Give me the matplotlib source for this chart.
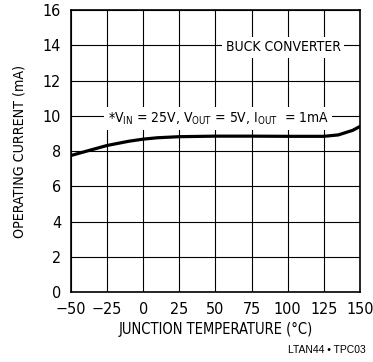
import matplotlib
matplotlib.use("Agg")
import matplotlib.pyplot as plt
from matplotlib import font_manager

# ---------- data ----------
temp_c = [-50, -40, -25, -10, 0, 10, 25, 50, 75, 100, 125, 135, 145, 150]
current_ma = [7.75, 7.98, 8.32, 8.56, 8.68, 8.76, 8.82, 8.85, 8.85, 8.84, 8.84, 8.92, 9.18, 9.4]
xticks = [-50, -25, 0, 25, 50, 75, 100, 125, 150]
yticks = [0, 2, 4, 6, 8, 10, 12, 14, 16]

# ---------- pick a condensed face if one is installed ----------
fonts = font_manager.fontManager.ttflist
names = {f.name for f in fonts}
narrow = None
if "Liberation Sans Narrow" in names:
    narrow = dict(family="Liberation Sans Narrow")
elif any(f.name == "DejaVu Sans" and str(f.stretch) in ("condensed", "semi-condensed", "75", "87.5") for f in fonts):
    narrow = dict(family="DejaVu Sans", stretch="condensed")

plt.rcParams["font.family"] = ["Liberation Sans", "DejaVu Sans"]
plt.rcParams["mathtext.default"] = "regular"
if narrow:
    plt.rcParams["font.family"] = [narrow["family"], "DejaVu Sans"]
    if "stretch" in narrow:
        plt.rcParams["font.stretch"] = narrow["stretch"]
    xlab_fs, ylab_fs, txt_fs, tick_fs = 10.5, 10.2, 10, 11.5
else:
    xlab_fs, ylab_fs, txt_fs, tick_fs = 9, 8.8, 8.5, 10.5

fig = plt.figure(figsize=(3.73, 3.62), dpi=100)
ax = fig.add_axes([0.190, 0.193, 0.775, 0.779])

ax.plot(temp_c, current_ma, color="black", linewidth=2.3, zorder=3)

ax.set_xlim(-50, 150)
ax.set_ylim(0, 16)
ax.set_xticks(xticks)
ax.set_yticks(yticks)
ax.set_xticklabels([str(t).replace("-", "\u2212") for t in xticks])
ax.tick_params(length=0, labelsize=tick_fs)
ax.tick_params(axis="x", pad=7)
ax.tick_params(axis="y", pad=7)
ax.grid(True, color="black", linewidth=0.8)
ax.set_axisbelow(True)
for s in ax.spines.values():
    s.set_linewidth(1.2)

ax.set_xlabel("JUNCTION TEMPERATURE (\u00b0C)", fontsize=xlab_fs, labelpad=4)
ax.set_ylabel("OPERATING CURRENT (mA)", fontsize=ylab_fs, labelpad=12)

box = dict(facecolor="white", edgecolor="none", pad=2.5)
ax.text(97, 13.9, "BUCK CONVERTER", fontsize=txt_fs, ha="center", va="center", bbox=box, zorder=4)
ax.text(52, 9.85, r"*V$_{IN}$ = 25V, V$_{OUT}$ = 5V, I$_{OUT}$  = 1mA",
        fontsize=txt_fs, ha="center", va="center", bbox=box, zorder=4)

fig.text(0.98, 0.02, "LTAN44 \u2022 TPC03", fontsize=7.5, ha="right", va="bottom",
         family="Liberation Sans")

fig.savefig("out.png", dpi=100)
